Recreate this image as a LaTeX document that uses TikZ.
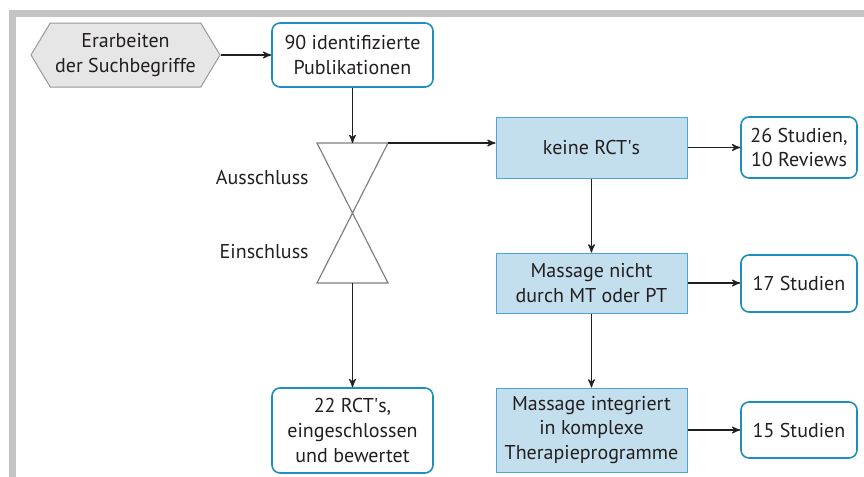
\documentclass[tikz,border=0pt]{standalone}
\usepackage{fontspec}
\setmainfont{PT Sans}
\usepackage{xcolor}
\usepackage{tikz}
\usetikzlibrary{arrows}
\usetikzlibrary{shapes}

\definecolor{framegray}{HTML}{C4C4C6}
\definecolor{roundblue}{HTML}{1E8DC0}
\definecolor{fillblue}{HTML}{C3DFEE}
\definecolor{edgeblue}{HTML}{4BA6D6}
\definecolor{hexgray}{HTML}{E6E6E6}
\definecolor{inkgray}{HTML}{231F20}

\begin{document}
\begin{tikzpicture}[x=0.5pt, y=-0.5pt,
        every node/.style={font=\fontsize{10}{12.3}\selectfont, text=inkgray, align=center, inner sep=0pt},
        roundbox/.style={draw=roundblue, line width=0.8pt, rounded corners=4pt, fill=white},
        bluebox/.style={draw=edgeblue, line width=0.5pt, fill=fillblue, minimum width=95.5pt},
        resultbox/.style={roundbox, minimum width=58pt},
        hexbox/.style={signal, signal to=west and east, signal pointer angle=118, draw=gray!80, fill=hexgray, line width=0.5pt},
        arr/.style={-stealth', line width=0.55pt, draw=inkgray}]
        \useasboundingbox (0, 0) rectangle (864, 477);

        % frame
        \draw[framegray, line width=3.5pt] (12.5, 477) -- (12.5, 13) -- (864, 13);

        \node[hexbox, minimum width=94.5pt, minimum height=32pt] (search) at (125.5, 55) {Erarbeiten\\der Suchbegriffe};
        \node[roundbox, minimum width=80.5pt, minimum height=32pt] (found) at (352.5, 55) {90 identifizierte\\Publikationen};
        \node[roundbox, minimum width=80.5pt, minimum height=42.5pt] (included) at (352.5, 430.5) {22 RCT\textquotesingle s,\\eingeschlossen\\und bewertet};

        \node[bluebox, minimum height=30.5pt] (norct) at (591.5, 147.5) {keine RCT\textquotesingle s};
        \node[bluebox, minimum height=30pt] (notmtpt) at (591.5, 283) {Massage nicht\\durch MT oder PT};
        \node[bluebox, minimum height=42pt] (complex) at (591.5, 430) {Massage integriert\\in komplexe\\Therapieprogramme};

        \node[resultbox, minimum height=30.5pt] (res1) at (799, 147.5) {26 Studien,\\10 Reviews};
        \node[resultbox, minimum height=28.5pt] (res2) at (799, 283.5) {17 Studien};
        \node[resultbox, minimum height=28pt] (res3) at (799, 430) {15 Studien};

        % hourglass
        \coordinate (hgTL) at (317, 143);
        \coordinate (hgTR) at (388, 143);
        \coordinate (hgBL) at (317, 283);
        \coordinate (hgBR) at (388, 283);
        \coordinate (hgTop) at (352.5, 143);
        \coordinate (hgBot) at (352.5, 283);
        \draw[gray, line width=0.6pt] (hgTL) -- (hgTR) -- (hgBL) -- (hgBR) -- cycle;

        \node[anchor=east] (outlabel) at (309, 178) {Ausschluss};
        \node[anchor=east] (inlabel) at (309, 252) {Einschluss};

        \draw[arr] (search.east) -- (found.west);
        \draw[arr] (found.south) -- (hgTop);
        \draw[arr] (hgBot) -- (included.north);
        \draw[arr] (hgTR) -- (hgTR -| norct.west);

        \draw[arr] (norct.south) -- (notmtpt.north);
        \draw[arr] (notmtpt.south) -- (complex.north);

        \draw[arr] (norct.east) -- (res1.west);
        \draw[arr] (notmtpt.east) -- (notmtpt.east -| res2.west);
        \draw[arr] (complex.east) -- (res3.west);
    \end{tikzpicture}
\end{document}
